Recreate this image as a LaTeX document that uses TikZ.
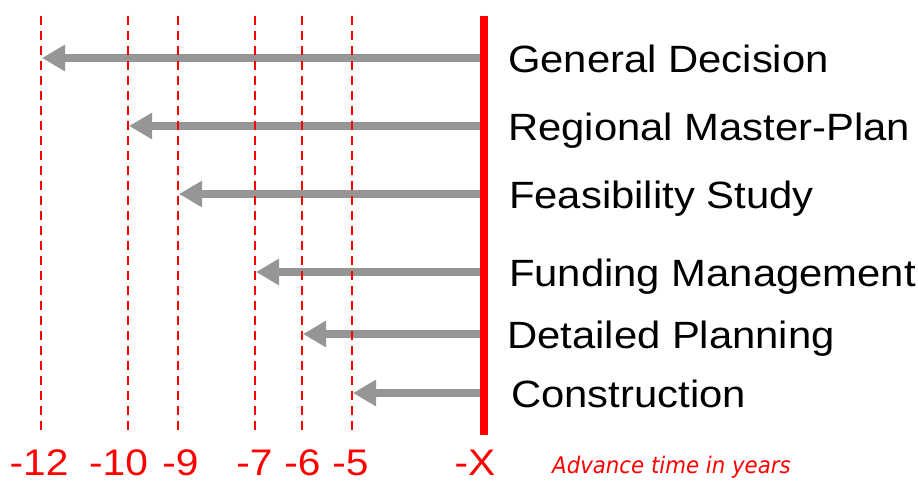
\documentclass[tikz,border=0pt]{standalone}
\usepackage{fontspec}
\setmainfont{Liberation Sans}
\newfontfamily\phasefont[FakeStretch=1.10]{Liberation Sans}
\newfontfamily\notefont[FakeStretch=0.93]{DejaVu Sans}
\usetikzlibrary{arrows.meta,positioning}
\definecolor{deadline}{RGB}{255,0,0}
\definecolor{lead}{RGB}{150,150,150}

\begin{document}
\begin{tikzpicture}[x=1pt, y=-1pt, >=Stealth,
    phase/.style={anchor=base west, inner sep=0pt, font=\phasefont\fontsize{38}{38}\selectfont},
    year/.style={anchor=base, inner sep=0pt, text=deadline, font=\phasefont\fontsize{37}{37}\selectfont},
    leadarrow/.style={draw=lead, line width=8.5pt, -{Triangle[length=23pt,width=25pt]}},
    yearline/.style={deadline, line width=2pt, dash pattern=on 9pt off 6pt}]

    % Paramètres (1 unité = 1 px de l'image)
    \def\nowX{484}     % ligne rouge "-X"
    \def\topY{16}
    \def\botY{433}

    \useasboundingbox (0,0) rectangle (918,481);

    % =========================================================================
    % FLECHES D'AVANCE (une par phase)
    % =========================================================================
    \foreach \i/\y/\x/\tx/\txt in {1/58/42/508/General Decision,
                                  2/126/129/508/Regional Master-Plan,
                                  3/194/179/509/Feasibility Study,
                                  4/272/256/509/Funding Management,
                                  5/334/303/507/Detailed Planning,
                                  6/393/353/511/Construction} {
        \coordinate (now\i) at (\nowX,\y);
        \coordinate (tip\i) at (\x,\y);
        \draw[leadarrow] (now\i) -- (tip\i);
        \node[phase] (phase\i) at (\tx,\y+14.5) {\txt};
    }

    % =========================================================================
    % LIGNES DES ANNEES
    % =========================================================================
    \foreach \x/\lab/\lx in {41/-12/39, 128/-10/118.5, 178/-9/180.5,
                             255/-7/254.5, 302/-6/302.5, 352/-5/350.5} {
        \draw[yearline] (\x,\topY) -- (\x,\botY);
        \node[year] (yr\x) at (\lx,475) {\lab};
    }

    % Ligne de référence
    \draw[deadline, line width=8pt] (\nowX,\topY) -- (\nowX,435);
    \node[year] (yrX) at (475,475) {-X};

    % Légende
    \node[anchor=base west, inner sep=0pt, text=deadline,
          font=\notefont\itshape\fontsize{22.9}{23}\selectfont] (note) at (552,473) {Advance time in years};

\end{tikzpicture}
\end{document}
